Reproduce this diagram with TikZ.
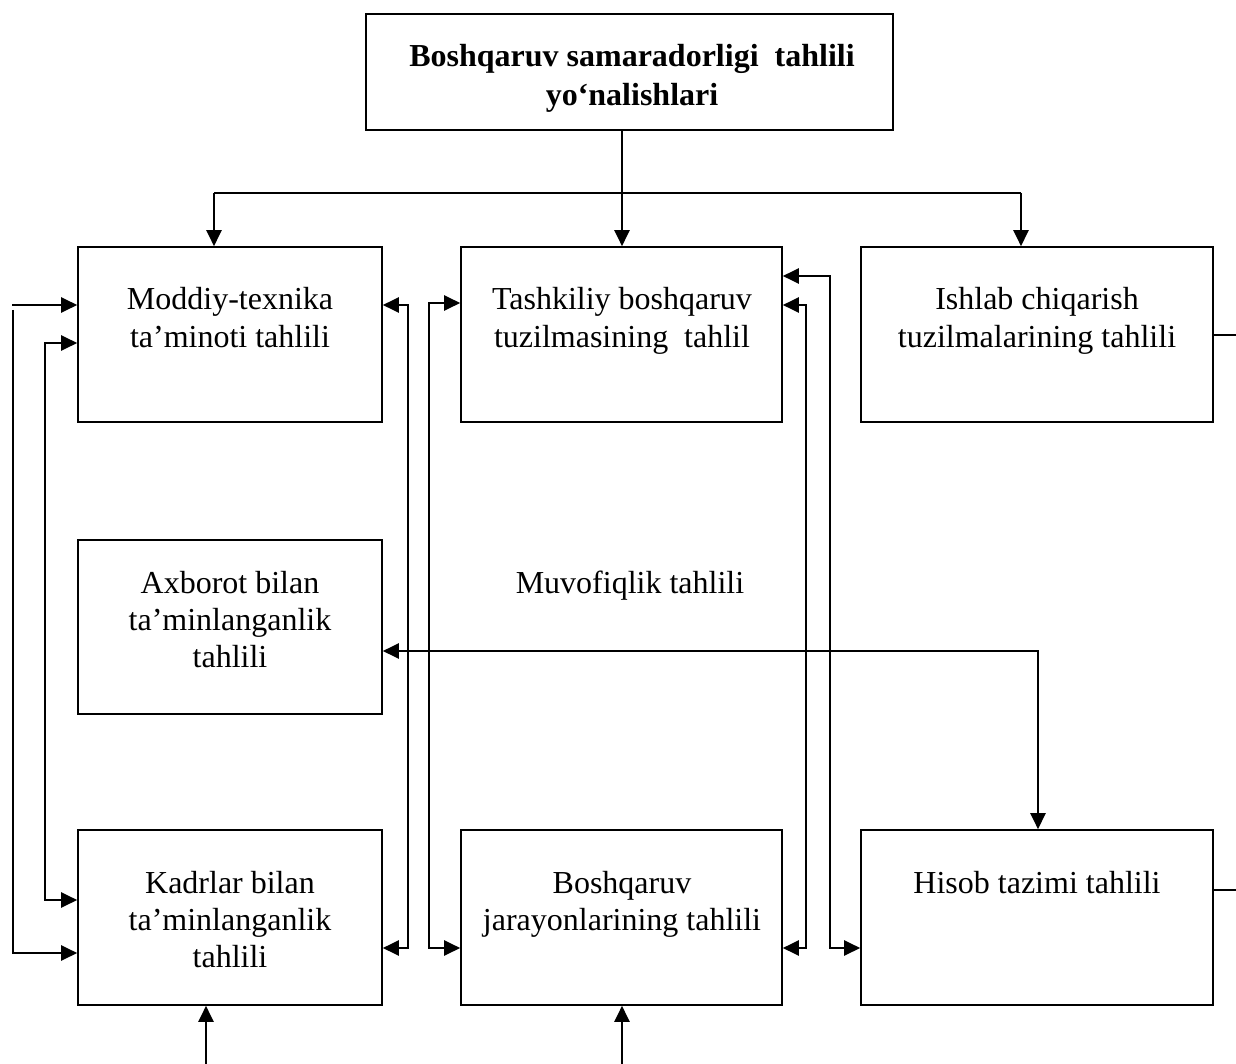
\documentclass[tikz,border=0pt]{standalone}
\usepackage{fontspec}
\setmainfont{Liberation Serif}
\usetikzlibrary{arrows.meta}
\begin{document}
\begin{tikzpicture}[x=1pt,y=-1pt,
  box/.style={draw, line width=1.6pt, inner sep=0pt, minimum height=175pt},
  lbl/.style={inner sep=0pt, anchor=base, align=center,
    font=\fontsize{32}{37}\selectfont},
  wire/.style={line width=2.2pt},
  arr/.style={wire, -{Triangle[length=16pt,width=15pt]}},
  darr/.style={wire, {Triangle[length=16pt,width=15pt]}-{Triangle[length=16pt,width=15pt]}}]
\useasboundingbox (0,0) rectangle (1236,1064);

% boxes
\node[box, minimum width=527pt, minimum height=116pt] (top) at (629.5,72) {};
\node[box, minimum width=304pt] (m) at (230,334.5) {};
\node[box, minimum width=321pt] (t) at (621.5,334.5) {};
\node[box, minimum width=352pt] (i) at (1037,334.5) {};
\node[box, minimum width=304pt, minimum height=174pt] (a) at (230,627) {};
\node[box, minimum width=304pt] (k) at (230,917.5) {};
\node[box, minimum width=321pt] (j) at (621.5,917.5) {};
\node[box, minimum width=352pt] (h) at (1037,917.5) {};

% texts (anchored at the baseline of the last line)
\node[lbl, font=\fontsize{32}{39}\selectfont\bfseries] (topt) at (632,106)
  {Boshqaruv samaradorligi~ tahlili\\yo‘nalishlari};
\node[lbl] (mt) at (230,347) {Moddiy-texnika\\ta’minoti tahlili};
\node[lbl] (tt) at (622,347) {Tashkiliy boshqaruv\\tuzilmasining~ tahlil};
\node[lbl] (it) at (1037,347) {Ishlab chiqarish\\tuzilmalarining tahlili};
\node[lbl] (at) at (230,667) {Axborot bilan\\ta’minlanganlik\\tahlili};
\node[lbl] (mv) at (630,593) {Muvofiqlik tahlili};
\node[lbl] (kt) at (230,967) {Kadrlar bilan\\ta’minlanganlik\\tahlili};
\node[lbl] (jt) at (622,930) {Boshqaruv\\jarayonlarining tahlili};
\node[lbl] (ht) at (1037,893) {Hisob tazimi tahlili};

% distribution from the title box
\coordinate (bus) at (622,193);
\coordinate (busl) at (214,193);
\coordinate (busr) at (1021,193);
\draw[wire] (top.south -| bus) -- (bus);
\draw[wire] (busl) -- (busr);
\draw[arr] (busl) -- (busl |- m.north);
\draw[arr] (bus) -- (bus |- t.north);
\draw[arr] (busr) -- (busr |- i.north);

% outer left rail
\coordinate (o1) at (12,305);
\coordinate (o2) at (13,310);
\coordinate (o3) at (13,953);
\draw[arr] (o1) -- (o1 -| m.west);
\draw[arr] (o2) -- (o3) -- (o3 -| k.west);

% inner left rail
\coordinate (n1) at (45,343);
\coordinate (n2) at (45,900);
\draw[darr] (n1 -| m.west) -- (n1) -- (n2) -- (n2 -| k.west);

% rail between left and middle column (to the left boxes)
\coordinate (r1) at (408,305);
\coordinate (r2) at (408,948);
\draw[darr] (r1 -| m.east) -- (r1) -- (r2) -- (r2 -| k.east);

% rail between left and middle column (to the middle boxes)
\coordinate (s1) at (429,303);
\coordinate (s2) at (429,948);
\draw[darr] (s1 -| t.west) -- (s1) -- (s2) -- (s2 -| j.west);

% rail right of the middle column
\coordinate (u1) at (806,305);
\coordinate (u2) at (806,948);
\draw[darr] (u1 -| t.east) -- (u1) -- (u2) -- (u2 -| j.east);

% rail linking the middle column with the accounting box
\coordinate (v1) at (830,276);
\coordinate (v2) at (830,948);
\draw[darr] (v1 -| t.east) -- (v1) -- (v2) -- (v2 -| h.west);

% information link
\coordinate (w1) at (1038,651);
\draw[darr] (w1 -| a.east) -- (w1) -- (w1 |- h.north);

% stubs leaving on the right
\coordinate (e1) at (1236,335);
\coordinate (e2) at (1236,890);
\draw[wire] (e1 -| i.east) -- (e1);
\draw[wire] (e2 -| h.east) -- (e2);

% feeds from below
\coordinate (b1) at (206,1064);
\coordinate (b2) at (622,1064);
\draw[arr] (b1) -- (b1 |- k.south);
\draw[arr] (b2) -- (b2 |- j.south);
\end{tikzpicture}
\end{document}
